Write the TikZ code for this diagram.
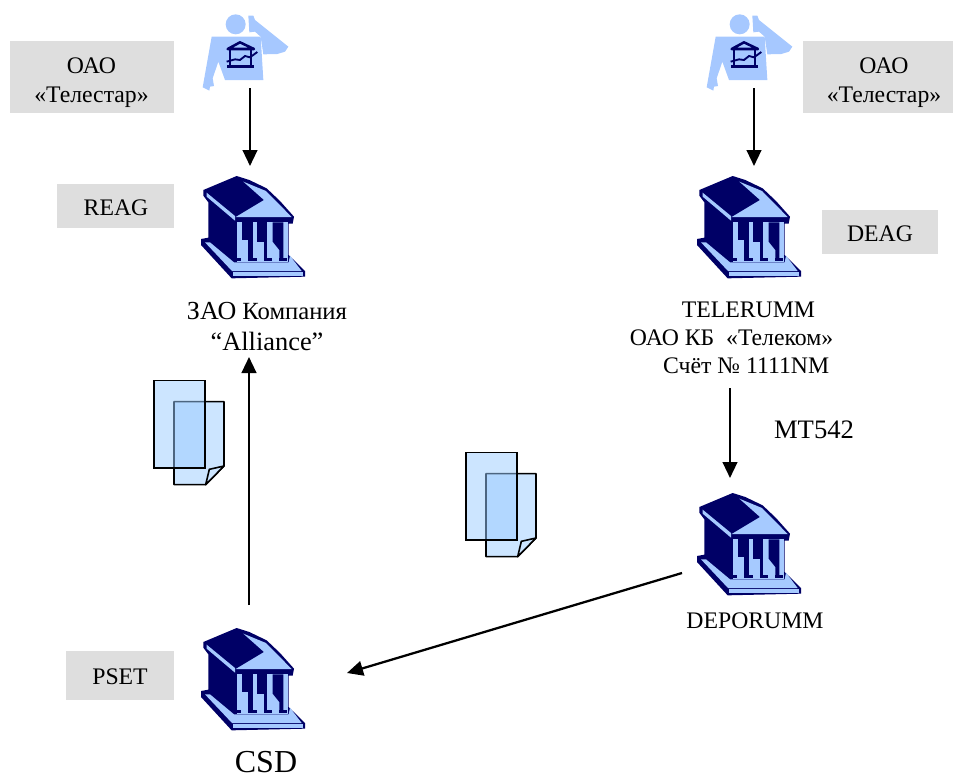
\documentclass[tikz,border=0pt]{standalone}
\usepackage{fontspec}
\setmainfont{Liberation Serif}
\usetikzlibrary{arrows.meta}
\definecolor{bankdark}{HTML}{000066}
\definecolor{banklight}{HTML}{A6CAFF}
\definecolor{persona}{HTML}{A6C8FF}
\definecolor{graybox}{HTML}{DEDEDE}
\definecolor{docfill}{HTML}{CCE5FF}
\definecolor{docback}{HTML}{99CBFF}
\tikzset{
 x=0.75pt,y=-0.75pt,
 grayrect/.style={fill=graybox,draw=none},
 lbl/.style={align=center,inner sep=0pt,anchor=base,font=\fontsize{17.8}{21.5}\selectfont},
 conn/.style={draw=black,line width=1.7pt,-{Triangle[length=12pt,width=11pt]}},
 bank/.pic={
  \begin{scope}[x=0.25pt,y=-0.25pt]
  \fill[bankdark] (40,75)--(140,33)--(178,45)--(230,70)--(270,108)--(312,155)--(308,176)--(296,176)--(296,270)--(345,318)--(345,335)--(125,340)--(33,240)--(33,222)--(55,218)--(55,112)--(40,92)--cycle;
  \fill[banklight] (160,50)--(228,78)--(305,156)--(137,156)--(222,105)--cycle;
  \fill[banklight] (50,83)--(135,153)--(135,167)--(50,95)--cycle;
  \fill[banklight] (142,172) rectangle (295,292);
  \fill[bankdark] (157,172) rectangle (175,225);
  \fill[bankdark] (175,172) rectangle (188,285);
  \fill[bankdark] (175,280) rectangle (200,288);
  \fill[bankdark] (202,172) rectangle (223,230);
  \fill[bankdark] (223,172) rectangle (232,285);
  \fill[bankdark] (223,280) rectangle (245,288);
  \fill[bankdark] (248,172)--(280,172)--(280,285)--(268,285)--(268,255)--(248,230)--cycle;
  \fill[bankdark] (268,280) rectangle (290,288);
  \fill[bankdark] (130,280) rectangle (152,288);
  \fill[banklight] (45,232)--(60,232)--(132,292)--(296,292)--(300,272)--(335,318)--(126,318)--cycle;
  \fill[banklight] (130,322)--(340,322)--(340,332)--(130,332)--cycle;
  \end{scope}
 },
 person/.pic={
  \begin{scope}[x=0.25pt,y=-0.25pt]
  \fill[persona] (137,73) circle (30);
  \fill[persona] (175,47)--(190,47)--(195,60)--(295,140)--(285,155)--(262,162)--(220,163)--(212,110)--(195,95)--(178,97)--cycle;
  \fill[persona] (65,110)--(212,110)--(220,240)--(105,240)--(85,185)--(68,235)--(72,258)--(60,260)--(58,272)--(38,262)--cycle;
  \draw[bankdark,line width=1.9pt,line join=round] (113,147)--(150,127)--(192,147)--cycle;
  \draw[bankdark,line width=1.9pt] (120,147)--(120,198) (183,147)--(183,198);
  \fill[bankdark] (110,195)--(192,195)--(192,204)--(110,204)--cycle;
  \draw[bankdark,line width=1.4pt] (110,185)--(135,178)--(150,180)--(165,168)--(180,172)--(202,156);
  \end{scope}
 },
 docs/.pic={
  \begin{scope}[x=0.25pt,y=-0.25pt]
  \draw[black,line width=1.2pt,fill=docfill,line join=round] (102,95)--(252,95)--(252,288)--(197,344)--(102,344)--cycle;
  \draw[black,line width=1.2pt,fill=docfill,line join=round] (252,288)--(208,298)--(197,344)--cycle;
  \fill[docback,fill opacity=.5] (42,32) rectangle (195,294);
  \draw[black,line width=1.2pt] (42,32) rectangle (195,294);
  \end{scope}
 }
}
\begin{document}
\begin{tikzpicture}
\useasboundingbox (0,0) rectangle (953,778);
\fill[grayrect] (10,41) rectangle (174,113);
\fill[grayrect] (803,41) rectangle (953,113);
\fill[grayrect] (57,184) rectangle (174,228);
\fill[grayrect] (822,210) rectangle (938,254);
\fill[grayrect] (66,651) rectangle (174,700);
\pic (p1) at (190,0) {person};
\pic (p2) at (694,0) {person};
\pic (b1) at (190,165) {bank};
\pic (b2) at (686,165) {bank};
\pic (b3) at (686,482) {bank};
\pic (b4) at (190,617) {bank};
\pic (d1) at (140,370) {docs};
\pic (d2) at (452,442) {docs};
\node[lbl] (t1) at (91.5,102) {ОАО\\«Телестар»};
\node[lbl] (t2) at (884,102) {ОАО\\«Телестар»};
\node[lbl] (reag) at (116,215) {REAG};
\node[lbl] (deag) at (880,241) {DEAG};
\node[lbl] (pset) at (120,684) {PSET};
\node[lbl,font=\fontsize{18.5}{23}\selectfont] (alli) at (267,350) {{\fontsize{19.5}{23}\selectfont ЗАО} Компания\\{\fontsize{19.8}{23}\selectfont “Alliance”}};
\node[lbl,align=left,font=\fontsize{17.8}{21}\selectfont] (tele) at (731.5,373) {\hspace*{39pt}TELERUMM\\ОАО КБ\ \ «Телеком»\\\hspace*{25pt}Счёт № 1111NM};
\node[lbl,font=\fontsize{20}{24}\selectfont] (mt) at (814,438) {MT542};
\node[lbl] (dep) at (755,628) {DEPORUMM};
\node[lbl,font=\fontsize{24}{28}\selectfont] (csd) at (266,772) {CSD};
\coordinate (a1s) at (250,88); \coordinate (a1e) at (250,166);
\coordinate (a2s) at (754,88); \coordinate (a2e) at (754,166);
\coordinate (a3s) at (730,388); \coordinate (a3e) at (730,478);
\coordinate (a4s) at (249,605); \coordinate (a4e) at (249,357);
\coordinate (a5s) at (682,573); \coordinate (a5e) at (347,673);
\draw[conn] (a1s)--(a1e);
\draw[conn] (a2s)--(a2e);
\draw[conn] (a3s)--(a3e);
\draw[conn] (a4s)--(a4e);
\draw[conn] (a5s)--(a5e);
\end{tikzpicture}
\end{document}
